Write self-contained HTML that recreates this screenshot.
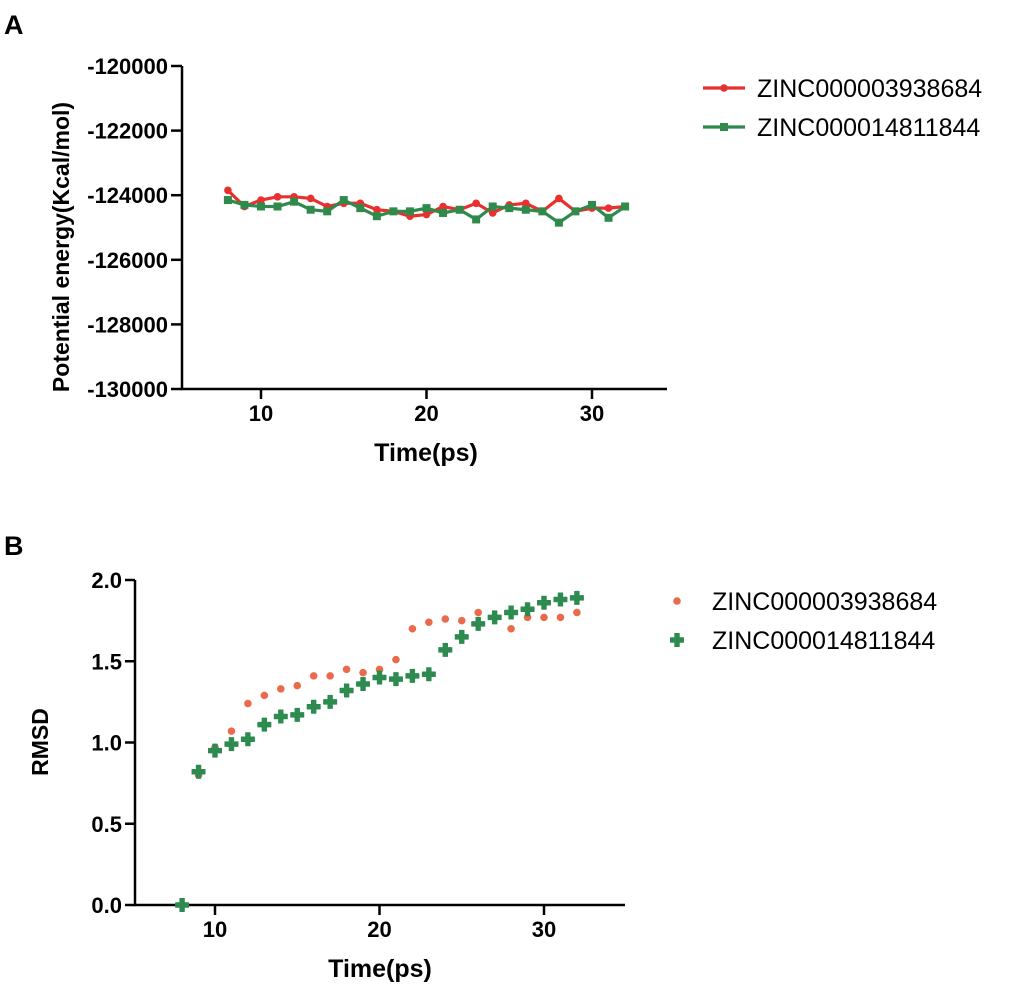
<!DOCTYPE html>
<html><head><meta charset="utf-8"><style>
body{margin:0;background:#fff;}
svg{display:block;font-family:"Liberation Sans",Arial,sans-serif;}
</style></head><body>
<svg id="s" width="1020" height="992" viewBox="0 0 1020 992">
<text x="4" y="34" font-size="27" font-weight="bold">A</text>
<text x="4" y="555" font-size="27" font-weight="bold">B</text>
<g id="ga"></g>
<g id="gb"></g>
</svg>
<script>
const timesA=[8,9,10,11,12,13,14,15,16,17,18,19,20,21,22,23,24,25,26,27,28,29,30,31,32];
const energyRed=[-123850,-124350,-124150,-124050,-124050,-124100,-124350,-124250,-124250,-124450,-124500,-124650,-124600,-124350,-124450,-124250,-124550,-124300,-124250,-124500,-124100,-124500,-124400,-124400,-124350];
const energyGreen=[-124150,-124300,-124350,-124350,-124200,-124450,-124500,-124150,-124400,-124650,-124500,-124500,-124400,-124550,-124450,-124750,-124350,-124400,-124450,-124500,-124850,-124500,-124300,-124700,-124350];
const yTicksA=[-120000,-122000,-124000,-126000,-128000,-130000];
const xTicks=[10,20,30];
const timesB=[8,9,10,11,12,13,14,15,16,17,18,19,20,21,22,23,24,25,26,27,28,29,30,31,32];
const rmsdRed=[0,0.80,0.97,1.07,1.24,1.29,1.33,1.35,1.41,1.41,1.45,1.43,1.45,1.51,1.70,1.74,1.76,1.75,1.80,1.77,1.70,1.77,1.77,1.77,1.80];
const rmsdGreen=[0,0.82,0.95,0.99,1.02,1.11,1.16,1.17,1.22,1.25,1.32,1.36,1.40,1.39,1.41,1.42,1.57,1.65,1.73,1.77,1.80,1.82,1.86,1.88,1.89];
const yTicksB=[0,0.5,1.0,1.5,2.0];
const NS='http://www.w3.org/2000/svg';
function mk(p,t,a){const e=document.createElementNS(NS,t);for(const k in a)e.setAttribute(k,a[k]);p.appendChild(e);return e;}
const RED='#e8302e',GRN='#2f8a4c',ORG='#ec6a4c',GRN2='#2e8b50';
const TK=22, TT=25, LG=25;
// Chart A
const ga=document.getElementById('ga');
const xA=v=>261+(v-10)*16.55, yA=v=>389-(v+130000)/10000*323;
let e=mk(ga,'path',{d:'M182 66V389H667',stroke:'#000','stroke-width':2.5,fill:'none'});

yTicksA.forEach(t=>{const y=yA(t);
 e=mk(ga,'line',{x1:171,x2:182,y1:y,y2:y,stroke:'#000','stroke-width':2.5});
 
 e=mk(ga,'text',{x:168,y:y+8,'font-size':TK,'font-weight':'bold','text-anchor':'end'});e.textContent=t;
 });
xTicks.forEach(t=>{const x=xA(t);
 e=mk(ga,'line',{x1:x,x2:x,y1:389,y2:399,stroke:'#000','stroke-width':2.5});
 
 e=mk(ga,'text',{x:x,y:421,'font-size':TK,'font-weight':'bold','text-anchor':'middle'});e.textContent=t;
 });
e=mk(ga,'text',{x:426,y:461,'font-size':TT,'font-weight':'bold','text-anchor':'middle'});e.textContent='Time(ps)';

e=mk(ga,'text',{x:0,y:0,'font-size':23,'font-weight':'bold','text-anchor':'middle',transform:'translate(69,247) rotate(-90)'});e.textContent='Potential energy(Kcal/mol)';

function series(g,xs,ys,fx,fy,col,name){
 e=mk(g,'polyline',{points:xs.map((x,i)=>fx(x)+','+fy(ys[i])).join(' '),stroke:col,'stroke-width':3.2,fill:'none'});
 }
series(ga,timesA,energyRed,xA,yA,RED,'series-red');
series(ga,timesA,energyGreen,xA,yA,GRN,'series-green');
timesA.forEach((t,i)=>{
 e=mk(ga,'circle',{cx:xA(t),cy:yA(energyRed[i]),r:3.8,fill:RED});
 
 e=mk(ga,'rect',{x:xA(t)-4,y:yA(energyGreen[i])-4,width:8,height:8,fill:GRN});
 });
// legend A
e=mk(ga,'line',{x1:703,x2:745,y1:88,y2:88,stroke:RED,'stroke-width':3.2});
e=mk(ga,'circle',{cx:724,cy:88,r:3.8,fill:RED});
e=mk(ga,'text',{x:757,y:97,'font-size':LG});e.textContent='ZINC000003938684';
e=mk(ga,'line',{x1:703,x2:745,y1:127,y2:127,stroke:GRN,'stroke-width':3.2});
e=mk(ga,'rect',{x:720,y:123,width:8,height:8,fill:GRN});
e=mk(ga,'text',{x:757,y:136,'font-size':LG});e.textContent='ZINC000014811844';
// Chart B
const gb=document.getElementById('gb');
const xB=v=>215+(v-10)*16.45, yB=v=>905-v*162.5;
e=mk(gb,'path',{d:'M135 580V905H625',stroke:'#000','stroke-width':2.5,fill:'none'});

yTicksB.forEach(t=>{const y=yB(t);
 e=mk(gb,'line',{x1:125,x2:135,y1:y,y2:y,stroke:'#000','stroke-width':2.5});
 
 e=mk(gb,'text',{x:122,y:y+8,'font-size':TK,'font-weight':'bold','text-anchor':'end'});e.textContent=t.toFixed(1);
 });
xTicks.forEach(t=>{const x=xB(t);
 e=mk(gb,'line',{x1:x,x2:x,y1:905,y2:915,stroke:'#000','stroke-width':2.5});
 
 e=mk(gb,'text',{x:x,y:937,'font-size':TK,'font-weight':'bold','text-anchor':'middle'});e.textContent=t;
 });
e=mk(gb,'text',{x:380,y:977,'font-size':TT,'font-weight':'bold','text-anchor':'middle'});e.textContent='Time(ps)';

e=mk(gb,'text',{x:0,y:0,'font-size':23,'font-weight':'bold','text-anchor':'middle',transform:'translate(48,742) rotate(-90)'});e.textContent='RMSD';

const cross='M-2.2,-6.5H2.2V-2.2H6.5V2.2H2.2V6.5H-2.2V2.2H-6.5V-2.2H-2.2Z';
timesB.forEach((t,i)=>{
 e=mk(gb,'circle',{cx:xB(t),cy:yB(rmsdRed[i]),r:3.8,fill:ORG});
 });
timesB.forEach((t,i)=>{
 e=mk(gb,'path',{d:cross,fill:GRN2,'stroke':GRN2,'stroke-width':1,'stroke-linejoin':'round',transform:`translate(${xB(t)},${yB(rmsdGreen[i])})`});
 });
e=mk(gb,'circle',{cx:677,cy:601,r:3.8,fill:ORG});
e=mk(gb,'text',{x:712,y:610,'font-size':LG});e.textContent='ZINC000003938684';
e=mk(gb,'path',{d:cross,fill:GRN2,stroke:GRN2,'stroke-width':1,transform:'translate(677,640)'});
e=mk(gb,'text',{x:712,y:649,'font-size':LG});e.textContent='ZINC000014811844';
</script>
</body></html>
